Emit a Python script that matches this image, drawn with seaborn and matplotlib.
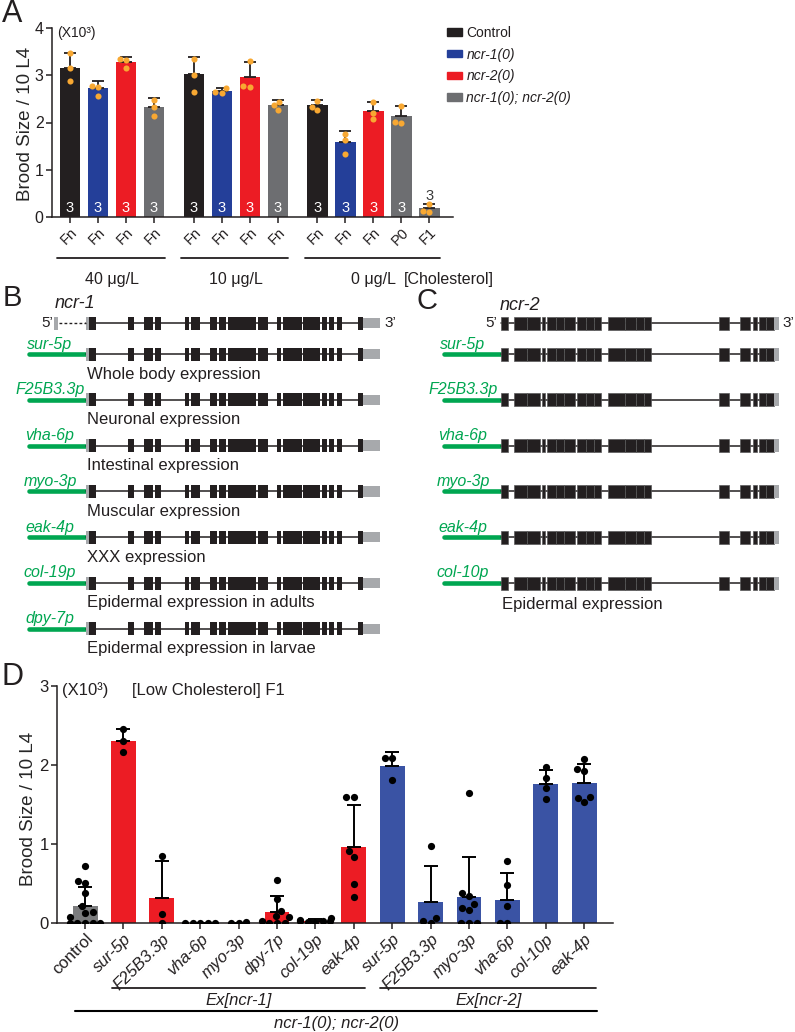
import numpy as np
import pandas as pd
import matplotlib
matplotlib.use("Agg")
import matplotlib.pyplot as plt
import matplotlib.patches as mpatches
from matplotlib.transforms import blended_transform_factory
import seaborn as sns

# ---------------- Panel A data ----------------
a_genotypes = ["Control", "ncr-1(0)", "ncr-2(0)", "ncr-1(0); ncr-2(0)"]
a_colors = {"Control": "#231f20", "ncr-1(0)": "#243f99",
            "ncr-2(0)": "#ec1c24", "ncr-1(0); ncr-2(0)": "#6d6e71"}
a_conc = ["40 μg/L", "10 μg/L", "0 μg/L"]
a_labels = ["Fn", "Fn", "Fn", "Fn", "Fn", "Fn", "Fn", "Fn", "Fn", "Fn", "Fn", "P0", "F1"]
a_group = [0, 0, 0, 0, 1, 1, 1, 1, 2, 2, 2, 2, 2]
a_geno = [0, 1, 2, 3, 0, 1, 2, 3, 0, 1, 2, 3, 3]
a_mean = [3.16, 2.73, 3.28, 2.32, 3.02, 2.67, 2.96, 2.37, 2.37, 1.59, 2.24, 2.14, 0.18]
a_sd = [0.32, 0.15, 0.10, 0.19, 0.36, 0.07, 0.33, 0.11, 0.11, 0.23, 0.20, 0.21, 0.09]
a_points = [[3.47, 3.15, 2.87], [2.78, 2.76, 2.56], [3.34, 3.32, 3.15], [2.48, 2.32, 2.13],
            [3.34, 3.00, 2.64], [2.72, 2.62, 2.65], [3.31, 2.77, 2.75], [2.43, 2.37, 2.27],
            [2.46, 2.32, 2.27], [1.76, 1.63, 1.33], [2.43, 2.21, 2.07], [2.35, 2.00, 2.01],
            [0.27, 0.12, 0.11]]
a_n = [3, 3, 3, 3, 3, 3, 3, 3, 3, 3, 3, 3, 3]

# ---------------- Panel B / C data (gene models, relative to gene start) ----------------
ncr1_utr5 = (0, 3)
ncr1_exons = [(3, 10), (42, 48), (58, 67), (69, 75), (99, 103), (105, 114), (124, 131),
              (133, 140), (142, 170), (172, 182), (191, 195), (197, 216), (217, 234),
              (236, 241), (243, 248), (251, 256), (272, 277)]
ncr1_utr3 = (277, 294)
ncr2_exons = [(0, 7), (13, 26), (26, 39), (41, 44), (46, 55), (55, 63), (63, 74), (76, 85),
              (85, 93), (93, 100), (107, 124), (124, 135), (135, 143), (143, 150),
              (218, 228), (239, 249), (252, 256), (258, 265), (265, 273)]
ncr2_utr3 = (273, 278)
b_promoters = ["sur-5p", "F25B3.3p", "vha-6p", "myo-3p", "eak-4p", "col-19p", "dpy-7p"]
b_expr = ["Whole body expression", "Neuronal expression", "Intestinal expression",
          "Muscular expression", "XXX expression", "Epidermal expression in adults",
          "Epidermal expression in larvae"]
c_promoters = ["sur-5p", "F25B3.3p", "vha-6p", "myo-3p", "eak-4p", "col-10p"]
c_expr = ["", "", "", "", "", "Epidermal expression"]

# ---------------- Panel D data ----------------
d_labels = ["control", "sur-5p", "F25B3.3p", "vha-6p", "myo-3p", "dpy-7p", "col-19p", "eak-4p",
            "sur-5p", "F25B3.3p", "myo-3p", "vha-6p", "col-10p", "eak-4p"]
d_set = ["control"] + ["Ex[ncr-1]"] * 7 + ["Ex[ncr-2]"] * 6
d_colors = {"control": "#7b7c7e", "Ex[ncr-1]": "#ec1c24", "Ex[ncr-2]": "#3a53a4"}
d_mean = [0.215, 2.30, 0.32, 0.0, 0.0, 0.14, 0.03, 0.96, 1.99, 0.26, 0.325, 0.287, 1.76, 1.77]
d_sd = [0.245, 0.15, 0.465, 0.0, 0.0, 0.20, 0.02, 0.53, 0.17, 0.465, 0.515, 0.35, 0.18, 0.24]
d_points = [[0.725, 0.535, 0.51, 0.375, 0.215, 0.14, 0.13, 0.075, 0, 0, 0, 0, 0],
            [2.45, 2.30, 2.16],
            [0.85, 0.12, 0],
            [0, 0, 0, 0, 0],
            [0, 0.01, 0],
            [0.55, 0.30, 0.15, 0.09, 0.07, 0.02, 0, 0, 0],
            [0.06, 0.04, 0.03, 0.03, 0.02, 0.01, 0],
            [1.60, 1.60, 0.91, 0.84, 0.50, 0.325],
            [2.09, 2.09, 1.81],
            [0.97, 0.06, 0.03, 0],
            [1.645, 0.385, 0.34, 0.235, 0.195, 0.165, 0, 0, 0],
            [0.79, 0.48, 0.22, 0, 0],
            [1.97, 1.84, 1.71, 1.565],
            [2.07, 1.95, 1.93, 1.59, 1.58, 1.53]]

# ---------------- style ----------------
sns.set_theme(style="ticks")
plt.rcParams['font.family'] = ['Liberation Sans', 'DejaVu Sans']
plt.rcParams['axes.edgecolor'] = '#231f20'
plt.rcParams['axes.linewidth'] = 1.1
plt.rcParams['xtick.color'] = '#231f20'
plt.rcParams['ytick.color'] = '#231f20'
plt.rcParams['text.color'] = '#231f20'

W, H = 795, 1032
fig = plt.figure(figsize=(W / 100, H / 100), dpi=100)


def px_rect(left, top, right, bottom):
    return [left / W, 1 - bottom / H, (right - left) / W, (bottom - top) / H]


canvas = fig.add_axes([0, 0, 1, 1], zorder=-1)
canvas.set_xlim(0, W)
canvas.set_ylim(H, 0)
canvas.axis('off')

ink = '#231f20'
green = '#00a651'

# ================= Panel A =================
ax_a = fig.add_axes(px_rect(52, 28, 453, 217))
ax_a.set_facecolor('none')
a_x = np.arange(len(a_mean)) + np.array(a_group) * 0.42
df_a = pd.DataFrame({"x": a_x, "brood": a_mean,
                     "genotype": [a_genotypes[g] for g in a_geno]})
sns.barplot(data=df_a, x="x", y="brood", hue="genotype", hue_order=a_genotypes,
            palette=a_colors, native_scale=True, width=0.72, dodge=False,
            errorbar=None, saturation=1, linewidth=0, legend=False, ax=ax_a)
ax_a.errorbar(a_x, a_mean, yerr=[np.zeros(len(a_sd)), a_sd], fmt='none', ecolor=ink,
              elinewidth=1.3, capsize=4.6, capthick=1.3, zorder=3)
df_ap = pd.DataFrame({"x": np.repeat(a_x, [len(p) for p in a_points]),
                      "brood": np.concatenate(a_points)})
sns.swarmplot(data=df_ap, x="x", y="brood", native_scale=True, color="#f8a832",
              size=4.4, linewidth=0, ax=ax_a, zorder=4)
for i, (xv, n) in enumerate(zip(a_x, a_n)):
    if a_mean[i] > 0.5:
        ax_a.text(xv, 0.2, str(n), ha='center', va='center', color='white', fontsize=10.5)
    else:
        ax_a.text(xv, a_mean[i] + a_sd[i] + 0.17, str(n), ha='center', va='center',
                  color='#3a3a3a', fontsize=10.5)
ax_a.set_xlim(-0.64, 13.68)
ax_a.set_ylim(0, 4)
ax_a.set_yticks([0, 1, 2, 3, 4])
ax_a.set_xticks(a_x)
ax_a.set_xticklabels(a_labels, rotation=45, ha='right', rotation_mode='anchor', fontsize=10.5)
ax_a.tick_params(axis='both', length=4, width=1.1, pad=2)
ax_a.tick_params(axis='y', labelsize=11.5)
ax_a.set_xlabel("")
ax_a.set_ylabel("Brood Size / 10 L4", fontsize=13.5)
ax_a.yaxis.set_label_coords(-0.045, 0.49)
sns.despine(ax=ax_a)

trans_a = blended_transform_factory(ax_a.transData, ax_a.transAxes)
for g, name in enumerate(a_conc):
    xs = a_x[np.array(a_group) == g]
    ax_a.plot([xs.min() - 0.45, xs.max() + 0.38], [-0.215, -0.215], color=ink, lw=1.3,
              transform=trans_a, clip_on=False)
    ax_a.text(xs.mean(), -0.354, name, ha='center', va='baseline', fontsize=11.5,
              transform=trans_a)
canvas.text(404, 284, "[Cholesterol]", ha='left', va='baseline', fontsize=11.5)
canvas.text(57, 33, "(X10³)", ha='left', va='center', fontsize=10)

handles = [mpatches.Patch(color=a_colors[g], label=g) for g in a_genotypes]
leg = fig.legend(handles=handles, loc='upper left', bbox_to_anchor=(447 / W, 1 - 26 / H),
                 frameon=False, fontsize=10, handlelength=1.05, handleheight=0.45,
                 handletextpad=0.35, labelspacing=0.55, borderpad=0, borderaxespad=0)
for t in leg.get_texts()[1:]:
    t.set_style('italic')

# ================= Panels B / C =================
row_y = [354 + 45.8 * k for k in range(7)]


def draw_model(x0, y, exons, utr3, utr5=None, seams=False):
    first = utr5[0] if utr5 else exons[0][0]
    canvas.plot([x0 + first, x0 + exons[-1][1]], [y, y], color=ink, lw=1.1, zorder=1)
    if utr5:
        canvas.add_patch(mpatches.Rectangle((x0 + utr5[0], y - 6.5), utr5[1] - utr5[0], 13,
                                            color='#a7a9ac', lw=0, zorder=2))
    for s, e in exons:
        canvas.add_patch(mpatches.Rectangle((x0 + s, y - 6.5), e - s, 13, facecolor=ink,
                                            edgecolor='#5a5a5a' if seams else ink,
                                            lw=0.5 if seams else 0, zorder=2))
    h3 = 13 if seams else 10.5
    canvas.add_patch(mpatches.Rectangle((x0 + utr3[0], y - h3 / 2), utr3[1] - utr3[0], h3,
                                        color='#a7a9ac', lw=0, zorder=2))


# Panel B (ncr-1)
bx0 = 86
canvas.text(12, 306, "B", ha='center', va='baseline', fontsize=21)
canvas.text(55, 304, "ncr-1", ha='left', va='center', fontsize=13, style='italic')
draw_model(bx0, 323, ncr1_exons, ncr1_utr3, utr5=ncr1_utr5)
canvas.add_patch(mpatches.Rectangle((bx0 - 32, 323 - 6.5), 4, 13, color='#a7a9ac', lw=0))
canvas.plot([bx0 - 27, bx0], [323, 323], color=ink, lw=1.0, ls=(0, (2, 1.6)))
canvas.text(53, 323, "5’", ha='right', va='center', fontsize=11)
canvas.text(384, 323, "3’", ha='left', va='center', fontsize=11)
for k, (prom, expr) in enumerate(zip(b_promoters, b_expr)):
    y = row_y[k]
    canvas.plot([bx0 - 57, bx0], [y, y], color=green, lw=3.3, solid_capstyle='round', zorder=1)
    draw_model(bx0, y, ncr1_exons, ncr1_utr3, utr5=ncr1_utr5)
    canvas.text(50, y - 10, prom, ha='center', va='center', fontsize=11.5,
                style='italic', color=green)
    canvas.text(87, y + 20, expr, ha='left', va='center', fontsize=12)

# Panel C (ncr-2)
cx0 = 501
canvas.text(427, 309, "C", ha='center', va='baseline', fontsize=21)
canvas.text(500, 305, "ncr-2", ha='left', va='center', fontsize=13, style='italic')
draw_model(cx0, 323, ncr2_exons, ncr2_utr3, seams=True)
canvas.text(497, 323, "5’", ha='right', va='center', fontsize=11)
canvas.text(782, 323, "3’", ha='left', va='center', fontsize=11)
for k, (prom, expr) in enumerate(zip(c_promoters, c_expr)):
    y = row_y[k]
    canvas.plot([cx0 - 57, cx0], [y, y], color=green, lw=3.3, solid_capstyle='round', zorder=1)
    draw_model(cx0, y, ncr2_exons, ncr2_utr3, seams=True)
    canvas.text(463, y - 10, prom, ha='center', va='center', fontsize=11.5,
                style='italic', color=green)
    if expr:
        canvas.text(502, y + 22, expr, ha='left', va='center', fontsize=12)

canvas.text(12, 14, "A", ha='center', va='center', fontsize=22)
canvas.text(12, 677, "D", ha='center', va='center', fontsize=22)

# ================= Panel D =================
ax_d = fig.add_axes(px_rect(57, 686, 613, 923))
ax_d.set_facecolor('none')
d_x = np.arange(len(d_mean))
df_d = pd.DataFrame({"x": d_x, "brood": d_mean, "set": d_set})
sns.barplot(data=df_d, x="x", y="brood", hue="set", palette=d_colors, native_scale=True,
            width=0.65, dodge=False, errorbar=None, saturation=1, linewidth=0,
            legend=False, ax=ax_d)
ax_d.errorbar(d_x, d_mean, yerr=[np.zeros(len(d_sd)), d_sd], fmt='none', ecolor='black',
              elinewidth=1.4, capsize=5.3, capthick=1.4, zorder=3)
df_dp = pd.DataFrame({"x": np.repeat(d_x, [len(p) for p in d_points]),
                      "brood": np.concatenate(d_points)})
sns.swarmplot(data=df_dp, x="x", y="brood", native_scale=True, color="black", size=5.2,
              linewidth=0, ax=ax_d, zorder=4, warn_thresh=1)
ax_d.set_xlim(-0.73, 13.75)
ax_d.set_ylim(0, 3)
ax_d.set_yticks([0, 1, 2, 3])
ax_d.set_xticks(d_x)
ax_d.set_xticklabels(d_labels, rotation=45, ha='right', rotation_mode='anchor', fontsize=12)
for t in ax_d.get_xticklabels()[1:]:
    t.set_style('italic')
ax_d.tick_params(axis='both', length=4, width=1.1, pad=2)
ax_d.tick_params(axis='y', labelsize=12)
ax_d.set_xlabel("")
ax_d.set_ylabel("Brood Size / 10 L4", fontsize=13.5)
ax_d.yaxis.set_label_coords(-0.036, 0.48)
sns.despine(ax=ax_d)

trans_d = blended_transform_factory(ax_d.transData, ax_d.transAxes)
for name in ["Ex[ncr-1]", "Ex[ncr-2]"]:
    xs = d_x[np.array(d_set) == name]
    ax_d.plot([xs.min() - 0.31, xs.max() + 0.3], [-0.274, -0.274], color=ink, lw=1.3,
              transform=trans_d, clip_on=False)
    ax_d.text((xs.min() + xs.max()) / 2, -0.325, name, ha='center', va='center',
              fontsize=12, style='italic', transform=trans_d)
ax_d.plot([d_x.min() - 0.26, d_x.max() + 0.33], [-0.371, -0.371], color='black', lw=1.5,
          transform=trans_d, clip_on=False)
ax_d.text(6.55, -0.422, "ncr-1(0); ncr-2(0)", ha='center', va='center', fontsize=12,
          style='italic', transform=trans_d)
canvas.text(62, 690, "(X10³)", ha='left', va='center', fontsize=12)
canvas.text(132, 690, "[Low Cholesterol] F1", ha='left', va='center', fontsize=12)

fig.savefig("out.png", dpi=100)
